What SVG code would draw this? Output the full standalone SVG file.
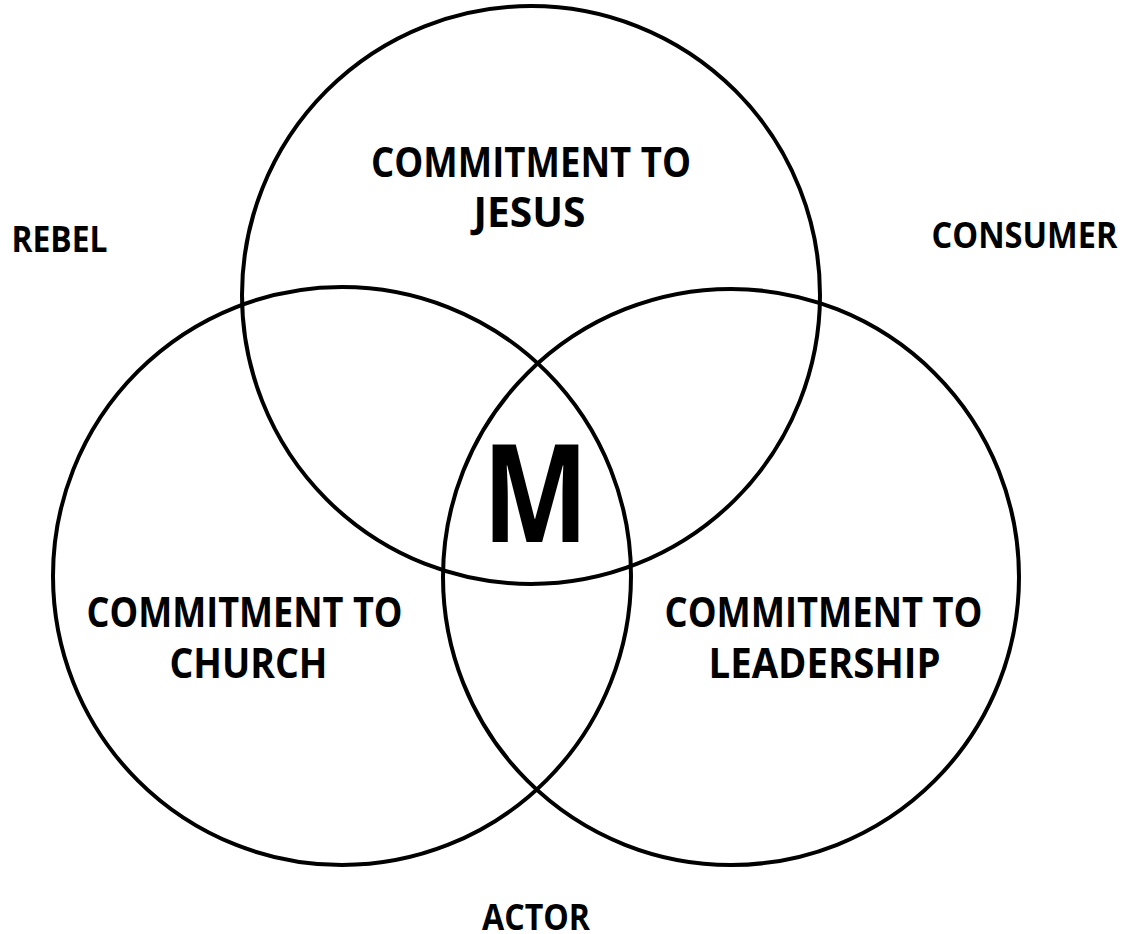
<svg xmlns="http://www.w3.org/2000/svg" width="1125" height="934" viewBox="0 0 1125 934">
<style>
.c{fill:none;stroke:#000;stroke-width:4}
.t{font-family:"Open Sans","Liberation Sans",sans-serif;font-weight:bold;fill:#000;text-anchor:middle}
.lbl{font-size:41px}
.out{font-size:35px}
.m{font-size:136px}
</style>
<rect width="1125" height="934" fill="#fff"/>
<g id="circle-jesus">
<circle class="c" cx="531" cy="295" r="289"/>
<text class="t lbl" x="531" y="177" textLength="320" lengthAdjust="spacingAndGlyphs">COMMITMENT TO</text>
<text class="t lbl" x="529.5" y="227" textLength="112" lengthAdjust="spacingAndGlyphs">JESUS</text>
</g>
<g id="circle-church">
<circle class="c" cx="342" cy="576" r="289"/>
<text class="t lbl" x="244.5" y="627" textLength="316" lengthAdjust="spacingAndGlyphs">COMMITMENT TO</text>
<text class="t lbl" x="248.5" y="678" textLength="158" lengthAdjust="spacingAndGlyphs">CHURCH</text>
</g>
<g id="circle-leadership">
<circle class="c" cx="731" cy="577" r="288"/>
<text class="t lbl" x="823.5" y="627" textLength="318" lengthAdjust="spacingAndGlyphs">COMMITMENT TO</text>
<text class="t lbl" x="824.5" y="678" textLength="232" lengthAdjust="spacingAndGlyphs">LEADERSHIP</text>
</g>
<g id="center-m">
<text class="t m" x="535.5" y="542" textLength="106" lengthAdjust="spacingAndGlyphs">M</text>
</g>
<g id="label-rebel">
<text class="t out" x="59.5" y="252" textLength="96" lengthAdjust="spacingAndGlyphs">REBEL</text>
</g>
<g id="label-consumer">
<text class="t out" x="1024.5" y="248" textLength="186" lengthAdjust="spacingAndGlyphs">CONSUMER</text>
</g>
<g id="label-actor">
<text class="t out" x="536" y="930" textLength="108" lengthAdjust="spacingAndGlyphs">ACTOR</text>
</g>
<g id="connectors"></g>
</svg>
